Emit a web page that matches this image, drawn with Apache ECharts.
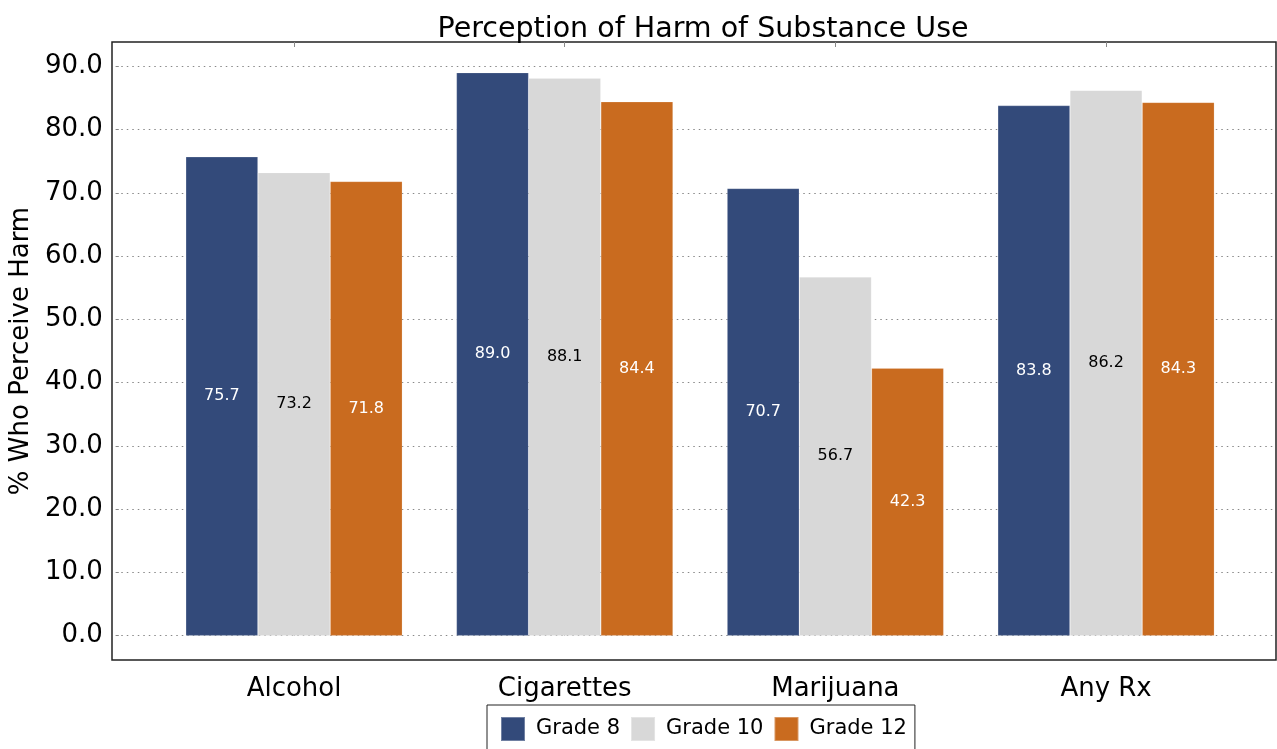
<!DOCTYPE html>
<html><head><meta charset="utf-8">
<script src="https://cdn.jsdelivr.net/npm/echarts@6/dist/echarts.min.js"></script>
<style>html,body{margin:0;padding:0;background:#fff}#c{width:1277px;height:749px}</style>
</head><body><div id="c"></div>
<script>
const categories = ['Alcohol', 'Cigarettes', 'Marijuana', 'Any Rx'];
const grade8 = [75.7, 89.0, 70.7, 83.8];
const grade10 = [73.2, 88.1, 56.7, 86.2];
const grade12 = [71.8, 84.4, 42.3, 84.3];
const seriesNames = ['Grade 8', 'Grade 10', 'Grade 12'];
const yTicks = [0, 10, 20, 30, 40, 50, 60, 70, 80, 90];

const colors = ['#334a7a', '#d8d8d8', '#c96b1f'];
const labelColors = ['#ffffff', '#000000', '#ffffff'];
const FONT = 'DejaVu Sans';
const plotTop = 66.3, plotH = 569.4;

const chart = echarts.init(document.getElementById('c'), null, {renderer: 'canvas'});
const dataSets = [grade8, grade10, grade12];

chart.setOption({
  animation: false,
  textStyle: {fontFamily: FONT},
  title: {
    text: 'Perception of Harm of Substance Use',
    left: 698, textAlign: 'center', top: 10,
    textStyle: {fontFamily: FONT, fontSize: 28.5, fontWeight: 'normal', color: '#000'}
  },
  legend: {
    data: seriesNames,
    left: 487, top: 705,
    orient: 'horizontal',
    itemWidth: 24, itemHeight: 24, itemGap: 10,
    padding: [11, 8, 11, 13],
    borderColor: '#222', borderWidth: 1,
    icon: 'rect',
    textStyle: {fontFamily: FONT, fontSize: 21, color: '#000', padding: [0, 0, 0, 6]}
  },
  grid: [
    {left: 112, top: 42, width: 1164, height: 618, show: true, borderColor: '#222', borderWidth: 1.5, backgroundColor: 'transparent', containLabel: false},
    {left: 112, top: plotTop, width: 1164, height: plotH, containLabel: false},
    {left: 158.7, top: plotTop, width: 1082.7, height: plotH, containLabel: false}
  ],
  xAxis: [
    {gridIndex: 0, type: 'value', show: false},
    {gridIndex: 1, type: 'value', show: false},
    {gridIndex: 2, type: 'category', data: categories, position: 'bottom', offset: 24.3,
      axisLine: {show: false},
      axisTick: {show: true, inside: true, length: 5, alignWithLabel: true, lineStyle: {color: '#888'}},
      axisLabel: {fontFamily: FONT, fontSize: 26, color: '#000', margin: 16}},
    {gridIndex: 2, type: 'category', data: categories, position: 'top', offset: 24.3,
      axisLine: {show: false},
      axisTick: {show: true, inside: true, length: 5, alignWithLabel: true, lineStyle: {color: '#888'}},
      axisLabel: {show: false}}
  ],
  yAxis: [
    {gridIndex: 0, type: 'value', show: false, min: 0, max: 1},
    {gridIndex: 1, type: 'value', min: 0, max: 90, interval: 10,
      name: '% Who Perceive Harm', nameLocation: 'middle', nameRotate: 90, nameGap: 78,
      nameTextStyle: {fontFamily: FONT, fontSize: 26, color: '#000'},
      axisLine: {show: false},
      axisTick: {show: true, inside: true, length: 3, lineStyle: {color: '#888'}},
      axisLabel: {fontFamily: FONT, fontSize: 26, color: '#000', margin: 13, formatter: v => v.toFixed(1)},
      splitLine: {show: true, lineStyle: {type: [1.5, 4], color: '#888', width: 1}}},
    {gridIndex: 2, type: 'value', min: 0, max: 90, show: false, splitLine: {show: false}}
  ],
  series: dataSets.map((d, i) => ({
    name: seriesNames[i],
    type: 'bar',
    xAxisIndex: 2, yAxisIndex: 2,
    data: d,
    barWidth: 72.2,
    barGap: '0%',
    barCategoryGap: '20%',
    itemStyle: {color: colors[i], borderColor: 'rgba(255,255,255,0.3)', borderWidth: 0.6},
    label: {show: true, position: 'inside', fontFamily: FONT, fontSize: 16, color: labelColors[i], formatter: p => p.value.toFixed(1)}
  }))
});
</script></body></html>
